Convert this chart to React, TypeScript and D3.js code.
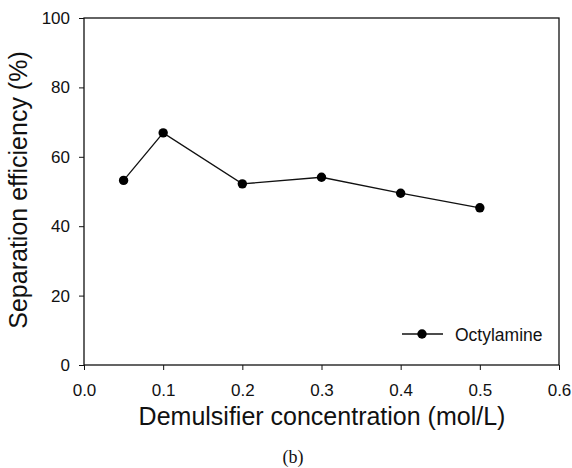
import React from "react";
import * as d3 from "d3";

const concentrations = [0.05, 0.1, 0.2, 0.3, 0.4, 0.5];
const efficiency = [53.2, 66.9, 52.2, 54.1, 49.5, 45.3];
const xTicks = [0, 0.1, 0.2, 0.3, 0.4, 0.5, 0.6];
const yTicks = [0, 20, 40, 60, 80, 100];
const seriesName = "Octylamine";

export default function App() {
  const width = 572;
  const height = 468;
  const left = 84;
  const right = 559;
  const top = 18;
  const bottom = 365;
  const font = "'Liberation Sans', Arial, sans-serif";

  const svgRef = React.useRef<SVGSVGElement>(null);

  React.useEffect(() => {
    const svg = d3.select(svgRef.current);
    svg.selectAll("*").remove();

    const xScale = d3.scaleLinear().domain([0, 0.6]).range([left, right]);
    const yScale = d3.scaleLinear().domain([0, 100]).range([bottom, top]);

    // frame
    svg
      .append("rect")
      .attr("x", left)
      .attr("y", top)
      .attr("width", right - left)
      .attr("height", bottom - top)
      .attr("fill", "none")
      .attr("stroke", "#111")
      .attr("stroke-width", 1.3);

    const xAxis = d3
      .axisBottom(xScale)
      .tickValues(xTicks)
      .tickSize(5)
      .tickPadding(14)
      .tickFormat(d3.format(".1f"));
    svg
      .append("g")
      .attr("transform", `translate(0,${bottom})`)
      .call(xAxis)
      .call((g) => g.select(".domain").remove())
      .call((g) => g.selectAll(".tick line").attr("stroke", "#111"))
      .selectAll("text")
      .style("font-family", font)
      .style("font-size", "17px")
      .style("fill", "#111");

    const yAxis = d3.axisLeft(yScale).tickValues(yTicks).tickSize(5).tickPadding(9);
    svg
      .append("g")
      .attr("transform", `translate(${left},0)`)
      .call(yAxis)
      .call((g) => g.select(".domain").remove())
      .call((g) => g.selectAll(".tick line").attr("stroke", "#111"))
      .selectAll("text")
      .style("font-family", font)
      .style("font-size", "17px")
      .style("fill", "#111");

    const data = concentrations.map((c, i) => [c, efficiency[i]] as [number, number]);
    const line = d3
      .line<[number, number]>()
      .x((d) => xScale(d[0]))
      .y((d) => yScale(d[1]));
    svg
      .append("path")
      .datum(data)
      .attr("d", line)
      .attr("fill", "none")
      .attr("stroke", "#111")
      .attr("stroke-width", 1.3);

    svg
      .selectAll(".pt")
      .data(data)
      .join("circle")
      .attr("class", "pt")
      .attr("cx", (d) => xScale(d[0]))
      .attr("cy", (d) => yScale(d[1]))
      .attr("r", 4.7)
      .attr("fill", "#000");

    // legend
    const ly = 334;
    svg
      .append("line")
      .attr("x1", 402)
      .attr("x2", 443)
      .attr("y1", ly)
      .attr("y2", ly)
      .attr("stroke", "#111")
      .attr("stroke-width", 1.3);
    svg.append("circle").attr("cx", 422).attr("cy", ly).attr("r", 4.7).attr("fill", "#000");
    svg
      .append("text")
      .attr("x", 455)
      .attr("y", 341)
      .style("font-family", font)
      .style("font-size", "17.5px")
      .attr("fill", "#111")
      .text(seriesName);

    // axis titles
    svg
      .append("text")
      .attr("x", 322)
      .attr("y", 425)
      .attr("text-anchor", "middle")
      .style("font-family", font)
      .style("font-size", "25px")
      .attr("fill", "#111")
      .text("Demulsifier concentration (mol/L)");

    svg
      .append("text")
      .attr("transform", `translate(27,190) rotate(-90)`)
      .attr("text-anchor", "middle")
      .style("font-family", font)
      .style("font-size", "25px")
      .attr("fill", "#111")
      .text("Separation efficiency (%)");

    svg
      .append("text")
      .attr("x", 293)
      .attr("y", 463)
      .attr("text-anchor", "middle")
      .style("font-family", "'Liberation Serif', 'Times New Roman', serif")
      .style("font-size", "18px")
      .attr("fill", "#111")
      .text("(b)");
  }, []);

  return (
    <svg
      ref={svgRef}
      width={width}
      height={height}
      style={{ position: "absolute", left: 0, top: 0, background: "#fff" }}
    />
  );
}
